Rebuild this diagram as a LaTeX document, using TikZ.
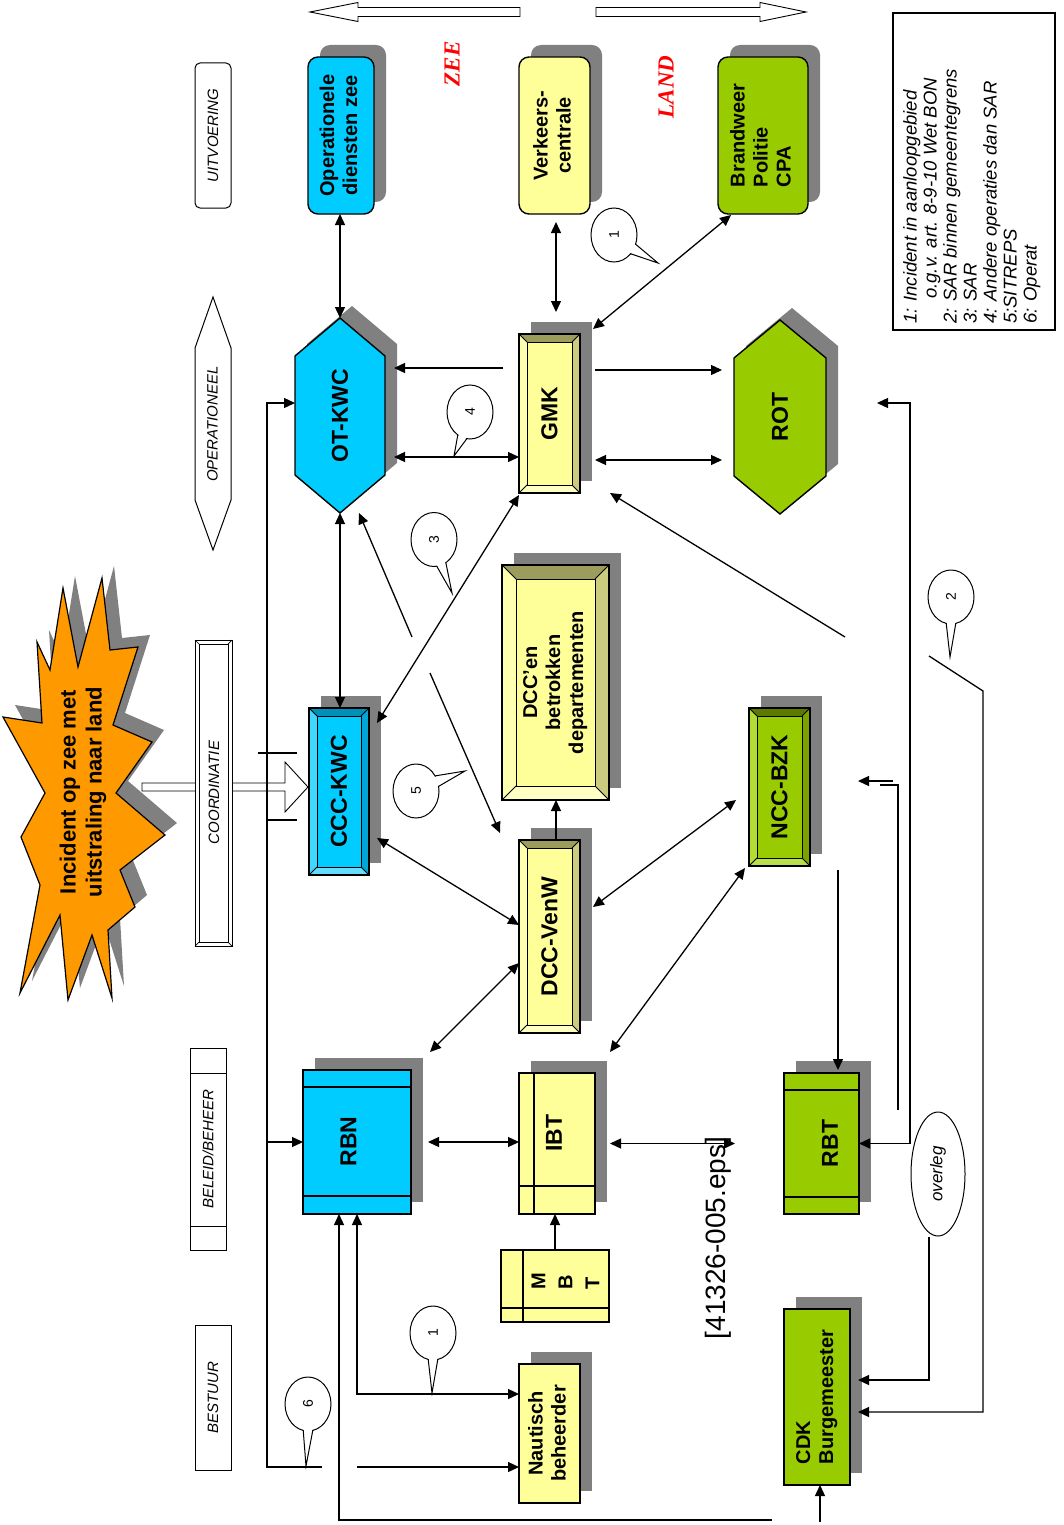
\documentclass[tikz,border=0pt]{standalone}
\usepackage{graphicx}
\usepackage{fontspec}
\setmainfont{Liberation Sans}
\newfontfamily\timesf{Liberation Serif}
\usetikzlibrary{arrows.meta,shadows,shapes.geometric}
\definecolor{cy}{HTML}{00CCFF}
\definecolor{yl}{HTML}{FFFF99}
\definecolor{gr}{HTML}{99CC00}
\definecolor{sh}{HTML}{808080}
\definecolor{org}{HTML}{FF9900}
\definecolor{ytop}{HTML}{9C9C5C}
\definecolor{yright}{HTML}{CCCC80}
\definecolor{ybot}{HTML}{FFFFC4}
\definecolor{yleft}{HTML}{FFFFB0}
\definecolor{ctop}{HTML}{0090B8}
\definecolor{cright}{HTML}{00A6D6}
\definecolor{cbot}{HTML}{66DDFF}
\definecolor{cleft}{HTML}{40D8FF}
\definecolor{gtop}{HTML}{5C7A00}
\definecolor{gright}{HTML}{7AA300}
\definecolor{gbot}{HTML}{B8E04A}
\definecolor{gleft}{HTML}{B3DD33}

\newcommand\rtxt[2][c]{\rotatebox{90}{\begin{tabular}{@{}#1@{}}#2\end{tabular}}}

\newcommand\bevel[6]{%
\fill[#3] (#1.north west) -- (#1.north east) -- ([xshift=-#2pt,yshift=-#2pt]#1.north east) -- ([xshift=#2pt,yshift=-#2pt]#1.north west) -- cycle;
\fill[#4] (#1.north east) -- (#1.south east) -- ([xshift=-#2pt,yshift=#2pt]#1.south east) -- ([xshift=-#2pt,yshift=-#2pt]#1.north east) -- cycle;
\fill[#5] (#1.south east) -- (#1.south west) -- ([xshift=#2pt,yshift=#2pt]#1.south west) -- ([xshift=-#2pt,yshift=#2pt]#1.south east) -- cycle;
\fill[#6] (#1.south west) -- (#1.north west) -- ([xshift=#2pt,yshift=-#2pt]#1.north west) -- ([xshift=#2pt,yshift=#2pt]#1.south west) -- cycle;
\draw[line width=0.9pt] ([xshift=#2pt,yshift=-#2pt]#1.north west) rectangle ([xshift=-#2pt,yshift=#2pt]#1.south east);
\draw[line width=0.9pt] (#1.north west) -- ([xshift=#2pt,yshift=-#2pt]#1.north west) (#1.north east) -- ([xshift=-#2pt,yshift=-#2pt]#1.north east) (#1.south east) -- ([xshift=-#2pt,yshift=#2pt]#1.south east) (#1.south west) -- ([xshift=#2pt,yshift=#2pt]#1.south west);
\draw[line width=1.6pt] (#1.north west) rectangle (#1.south east);
}

\newcommand\hexa[7]{%
\fill[sh] ({#2+12},{#3-#5-12}) -- ({#2+#4+12},{#3-#6-12}) -- ({#2+#4+12},{#3+#6-12}) -- ({#2+12},{#3+#5-12}) -- ({#2-#4+12},{#3+#6-12}) -- ({#2-#4+12},{#3-#6-12}) -- cycle;
\draw[line width=1.4pt,fill=#7] (#2,{#3-#5}) -- ({#2+#4},{#3-#6}) -- ({#2+#4},{#3+#6}) -- (#2,{#3+#5}) -- ({#2-#4},{#3+#6}) -- ({#2-#4},{#3-#6}) -- cycle;
\node[inner sep=0pt,outer sep=0pt,minimum width={2*#4},minimum height={2*#5}] (#1) at (#2,#3) {};
}

\newcommand\callout[6]{%
\draw[line width=1pt,fill=white] (#1,#2) ellipse [x radius=23pt,y radius=27pt];
\fill[white] ({#1+21*cos(#3-12)},{#2+25*sin(#3-12)}) -- (#4,#5) -- ({#1+21*cos(#3+12)},{#2+25*sin(#3+12)}) -- cycle;
\draw[line width=1pt] ({#1+23*cos(#3-12)},{#2+27*sin(#3-12)}) -- (#4,#5) -- ({#1+23*cos(#3+12)},{#2+27*sin(#3+12)});
\node[rotate=90,font=\fontsize{14}{14}\selectfont] (cn#6#1) at (#1,#2) {#6};
}

\tikzset{
 shad/.style={drop shadow={shadow xshift=12pt,shadow yshift=12pt,fill=sh,opacity=1}},
 box/.style={draw,line width=1.4pt,inner sep=0pt,outer sep=0pt,shad},
 plainbox/.style={draw,line width=1.4pt,inner sep=0pt,outer sep=0pt},
 rbox/.style={box,rounded corners=10pt},
 bigt/.style={font=\bfseries\fontsize{23}{26}\selectfont},
 medt/.style={font=\bfseries\fontsize{20}{23}\selectfont},
 lab/.style={rotate=90,font=\itshape\fontsize{15}{15}\selectfont,inner sep=0pt},
 con/.style={line width=1.3pt},
}

\begin{document}
\begin{tikzpicture}[x=1pt,y=-1pt,>={Triangle[length=11pt,width=10pt]}]
\useasboundingbox (0,0) rectangle (1063,1525);
\fill[white] (0,0) rectangle (1063,1525);

% direction arrows
\draw[line width=0.9pt,fill=white] (310,12) -- (358,2.5) -- (358,7.5) -- (520,7.5) -- (520,16.5) -- (358,16.5) -- (358,21.5) -- cycle;
\draw[line width=0.9pt,fill=white] (806,12) -- (760,2.5) -- (760,7.5) -- (596,7.5) -- (596,16.5) -- (760,16.5) -- (760,21.5) -- cycle;
\node[rotate=90,text=red,font=\timesf\bfseries\itshape\fontsize{23}{23}\selectfont] (zee) at (452,64) {ZEE};
\node[rotate=90,text=red,font=\timesf\bfseries\itshape\fontsize{23}{23}\selectfont] (land) at (666,87) {LAND};

% legend
\draw[line width=1.2pt] (893,13) rectangle (1055,330);
\node[rotate=90,anchor=north west,inner sep=0pt,align=left,font=\itshape\fontsize{18.5}{20}\selectfont] (legend) at (903,324)
 {1: Incident in aanloopgebied\\\hspace*{25pt}o.g.v. art. 8-9-10 Wet BON\\2: SAR binnen gemeentegrens\\3: SAR\\4: Andere operaties dan SAR\\5:SITREPS\\6: Operat};

% level labels
\node[lab,draw,line width=1pt,rounded corners=5pt,minimum width=145pt,minimum height=36pt] (uitv) at (213,135.5) {UITVOERING};
\draw[line width=1pt] (213,297) -- (231,348) -- (231,500) -- (213,550) -- (195,500) -- (195,348) -- cycle;
\node[lab] (oper) at (212.5,424) {OPERATIONEEL};
\draw[line width=1pt] (190,1048) rectangle (226,1250) (190,1073) -- (226,1073) (190,1226) -- (226,1226);
\node[lab] (beleid) at (208,1149) {BELEID/BEHEER};
\node[lab,draw,line width=1pt,minimum width=145pt,minimum height=36pt] (bestuur) at (213,1397.5) {BESTUUR};

% incident star
\fill[sh] (75,576) -- (90,655) -- (114,566) -- (122,638) -- (150,635) -- (125,713) -- (164,730) -- (128,781) -- (177,823) -- (132,858) -- (147,895) -- (120,918) -- (124,986) -- (104,923) -- (80,988) -- (72,903) -- (32,981) -- (52,873) -- (33,825) -- (57,781) -- (15,705) -- (54,711) -- (49,630) -- (62,658) -- cycle;
\draw[line width=1.2pt,fill=org] (63,588) -- (78,667) -- (102,578) -- (110,650) -- (138,647) -- (113,725) -- (152,742) -- (116,793) -- (165,835) -- (120,870) -- (135,907) -- (108,930) -- (112,998) -- (92,935) -- (68,1000) -- (60,915) -- (20,993) -- (40,885) -- (21,837) -- (45,793) -- (3,717) -- (42,723) -- (37,642) -- (50,670) -- cycle;
\node[rotate=90,align=center,font=\bfseries\fontsize{22}{26}\selectfont] (incident) at (83,792) {Incident op zee met\\uitstraling naar land};

% hollow arrow + coordinatie
\draw[line width=0.9pt,fill=white] (142,783) -- (285,783) -- (285,762) -- (308,787) -- (285,812) -- (285,791) -- (142,791) -- cycle;
\draw[line width=1pt,fill=white] (195,640) rectangle (232,946);
\draw[line width=0.7pt] (199,644) rectangle (228,942);
\draw[line width=0.7pt] (195,640) -- (199,644) (232,640) -- (228,644) (232,946) -- (228,942) (195,946) -- (199,942);
\node[lab] (coord) at (214,792.5) {COORDINATIE};

% top row
\node[rbox,fill=cy,medt,minimum width=66pt,minimum height=157pt] (opz) at (341,135.5) {\rtxt{Operationele\\diensten zee}};
\node[rbox,fill=yl,medt,minimum width=71pt,minimum height=157pt] (verk) at (554.5,135.5) {\rtxt{Verkeers-\\centrale}};
\node[rbox,fill=gr,medt,minimum width=90pt,minimum height=157pt] (brand) at (763,135.5) {\rtxt[l]{Brandweer\\Politie\\CPA}};

% hexagons
\hexa{otkwc}{340}{415.5}{45}{97.5}{59.5}{cy}
\node[bigt] (otkwct) at (otkwc) {\rotatebox{90}{OT-KWC}};
\hexa{rot}{780}{417}{46}{97}{59}{gr}
\node[bigt] (rott) at (rot) {\rotatebox{90}{ROT}};

% bevel boxes
\node[box,fill=yl,minimum width=61pt,minimum height=159pt] (gmk) at (549.5,413.5) {};
\bevel{gmk}{8}{ytop}{yright}{ybot}{yleft}
\node[bigt] (gmkt) at (gmk) {\rotatebox{90}{GMK}};

\node[box,fill=cy,minimum width=60pt,minimum height=167pt] (ccc) at (339,791.5) {};
\bevel{ccc}{8}{ctop}{cright}{cbot}{cleft}
\node[bigt] (ccct) at (ccc) {\rotatebox{90}{CCC-KWC}};

\node[box,fill=yl,minimum width=107pt,minimum height=235pt] (dccen) at (555.5,682.5) {};
\bevel{dccen}{14}{ytop}{yright}{ybot}{yleft}
\node[medt] (dccent) at (dccen) {\rtxt{DCC’en\\betrokken\\departementen}};

\node[box,fill=yl,minimum width=61pt,minimum height=193pt] (dccv) at (549.5,936.5) {};
\bevel{dccv}{8}{ytop}{yright}{ybot}{yleft}
\node[bigt] (dccvt) at (dccv) {\rotatebox{90}{DCC-VenW}};

\node[box,fill=gr,minimum width=61pt,minimum height=158pt] (ncc) at (779.5,787) {};
\bevel{ncc}{8}{gtop}{gright}{gbot}{gleft}
\node[bigt] (ncct) at (ncc) {\rotatebox{90}{NCC-BZK}};

% lower boxes
\node[box,fill=cy,minimum width=108pt,minimum height=144pt] (rbn) at (357,1142) {};
\draw[line width=1.1pt] ([yshift=-17pt]rbn.north west) -- ([yshift=-17pt]rbn.north east) ([yshift=18pt]rbn.south west) -- ([yshift=18pt]rbn.south east);
\node[bigt] (rbnt) at (348.5,1141.5) {\rotatebox{90}{RBN}};

\node[box,fill=yl,minimum width=76pt,minimum height=141pt] (ibt) at (557,1143.5) {};
\draw[line width=1.1pt] ([xshift=15pt]ibt.north west) -- ([xshift=15pt]ibt.south west) ([yshift=28pt]ibt.south west) -- ([yshift=28pt]ibt.south east);
\node[bigt] (ibtt) at (554,1133) {\rotatebox{90}{IBT}};

\node[plainbox,fill=yl,minimum width=108pt,minimum height=72pt] (mbt) at (555,1286) {};
\draw[line width=1.1pt] ([xshift=22pt]mbt.north west) -- ([xshift=22pt]mbt.south west) ([yshift=14pt]mbt.south west) -- ([yshift=14pt]mbt.south east);
\node[font=\bfseries\fontsize{20}{27}\selectfont] (mbtl) at (567,1281.5) {\rtxt[l]{M\\B\\T}};

\node[box,fill=yl,medt,minimum width=61pt,minimum height=139pt] (naut) at (549.5,1433.5) {\rtxt{Nautisch\\beheerder}};

\node[box,fill=gr,minimum width=75pt,minimum height=141pt] (rbt) at (821.5,1143.5) {};
\draw[line width=1.1pt] ([yshift=-17pt]rbt.north west) -- ([yshift=-17pt]rbt.north east) ([yshift=17pt]rbt.south west) -- ([yshift=17pt]rbt.south east);
\node[bigt] (rbtt) at (830,1143.5) {\rotatebox{90}{RBT}};

\node[box,fill=gr,medt,minimum width=66pt,minimum height=176pt] (cdk) at (817,1397) {\rtxt[l]{CDK\\Burgemeester}};

\node[font=\fontsize{28}{28}\selectfont,rotate=90] (eps) at (718,1238) {[41326-005.eps]};

% free ends
\coordinate (s2a) at (845,637);
\coordinate (s2b) at (929,656);
\coordinate (k1) at (893,781);
\coordinate (k2) at (880,785);
\coordinate (k3) at (898,1110);
\coordinate (cdkin) at (820,1522);
\coordinate (b1) at (772,1520);
\coordinate (n6) at (357,1467);
\coordinate (s6) at (322,1467);
\coordinate (lx) at (267,0);
\coordinate (s3a) at (412,637);
\coordinate (s3b) at (430,673);
\coordinate (e1) at (735,1143.5);
\coordinate (otw) at ([yshift=12.5pt]otkwc.west);

% connectors
\draw[con,<->] (otkwc.north) -- (otkwc.north |- opz.south);
\draw[con,<->] ([xshift=1.5pt,yshift=-8pt]verk.south) -- ([xshift=6.5pt,yshift=22pt]gmk.north);
\draw[con,<->] ([xshift=13pt,yshift=-1pt]brand.south west) -- ([xshift=13pt,yshift=5pt]gmk.north east);
\draw[con,->] ([xshift=-16pt,yshift=45.5pt]gmk.west) -- ([xshift=9pt,yshift=47.5pt]otkwc.east);
\draw[con,<->] ([xshift=9pt,yshift=-41.5pt]otkwc.east) -- ([yshift=-43.5pt]gmk.west);
\draw[con,->] ([xshift=15pt,yshift=43.5pt]gmk.east) -- ([xshift=-12pt,yshift=47pt]rot.west);
\draw[con,<->] ([xshift=15pt,yshift=-46.5pt]gmk.east) -- ([xshift=-12pt,yshift=-43pt]rot.west);
\draw[con,->] (s2a) -- ([xshift=30pt]gmk.south east);
\draw[con,->] (s2b) -- ++(54,35) |- ([xshift=8pt,yshift=-15pt]cdk.east);
\draw[con,<->] ([xshift=51pt,yshift=14pt]rot.east) -- ++(33,0) |- (rbt.east);
\draw[con,->] (k1) -- ([xshift=48pt,yshift=6pt]ncc.east);
\draw[con] (k2) -- (k2 -| k3) -- (k3);
\draw[con,->] ([xshift=58.5pt,yshift=-4pt]ncc.south) -- ([xshift=16.5pt,yshift=3pt]rbt.north);
\draw[con,->] (cdkin) -- ([xshift=3pt]cdk.south);
\draw[con,->] (b1) -| ([xshift=-18pt]rbn.south);
\draw[con,<->] (rbn.south) |- ([yshift=39.5pt]naut.west);
\draw[con,->] (n6) -- ([yshift=-33.5pt]naut.west);
\draw[con,->] (s6) -| (otw -| lx) -- (otw);
\draw[con,->] (rbn.west -| lx) -- (rbn.west);
\draw[con] (lx |- ccc.north) ++(-9,45) -- ++(39,0);
\draw[con] (lx |- ccc.north) ++(0,112) -- ++(30,0);
\draw[con,<->] (otkwc.south) -- (otkwc.south |- ccc.north);
\draw[con,<->] ([xshift=8pt,yshift=-15pt]ccc.north east) -- ([yshift=-2pt]gmk.south west);
\draw[con,->] (s3a) -- ([xshift=19pt]otkwc.south);
\draw[con,->] (s3b) -- ([xshift=-19pt,yshift=7pt]dccv.north west);
\draw[con,->] ([xshift=6.5pt]dccv.north) -- ([xshift=0.5pt]dccen.south);
\draw[con,<->] ([xshift=8pt,yshift=-46.5pt]ccc.east) -- ([yshift=11.5pt]dccv.west);
\draw[con,<->] ([xshift=19pt,yshift=18pt]rbn.north east) -- ([yshift=-26.5pt]dccv.west);
\draw[con,<->] ([xshift=13pt,yshift=29.5pt]dccv.east) -- ([xshift=-13pt,yshift=-13pt]ncc.west);
\draw[con,<->] ([xshift=15pt,yshift=21pt]ibt.north east) -- ([xshift=-4pt,yshift=-2pt]ncc.south west);
\draw[con,<->] ([xshift=17pt]rbn.east) -- (rbn.east -| ibt.west);
\draw[con,<->] ([xshift=15pt]ibt.east) -- (e1);
\draw[con,->] (mbt.north) -- (mbt.north |- ibt.south);

% overleg
\node[draw,ellipse,line width=1pt,minimum width=54pt,minimum height=124pt,inner sep=0pt,fill=white,font=\itshape\fontsize{17}{17}\selectfont] (overleg) at (938,1174) {\rotatebox{90}{overleg}};
\draw[con,->] ([xshift=-9pt]overleg.south) |- ([xshift=8pt,yshift=17pt]cdk.east);

% callouts
\callout{614}{235}{32}{658}{263}{1}
\callout{470}{412}{110}{454}{456}{4}
\callout{434}{539.5}{71}{452}{593}{3}
\callout{416}{791}{-22}{465}{771}{5}
\callout{951}{597}{90}{950}{657}{2}
\callout{433}{1333}{90}{432}{1393}{1}
\callout{308}{1404}{90}{306}{1466}{6}
\end{tikzpicture}
\end{document}
